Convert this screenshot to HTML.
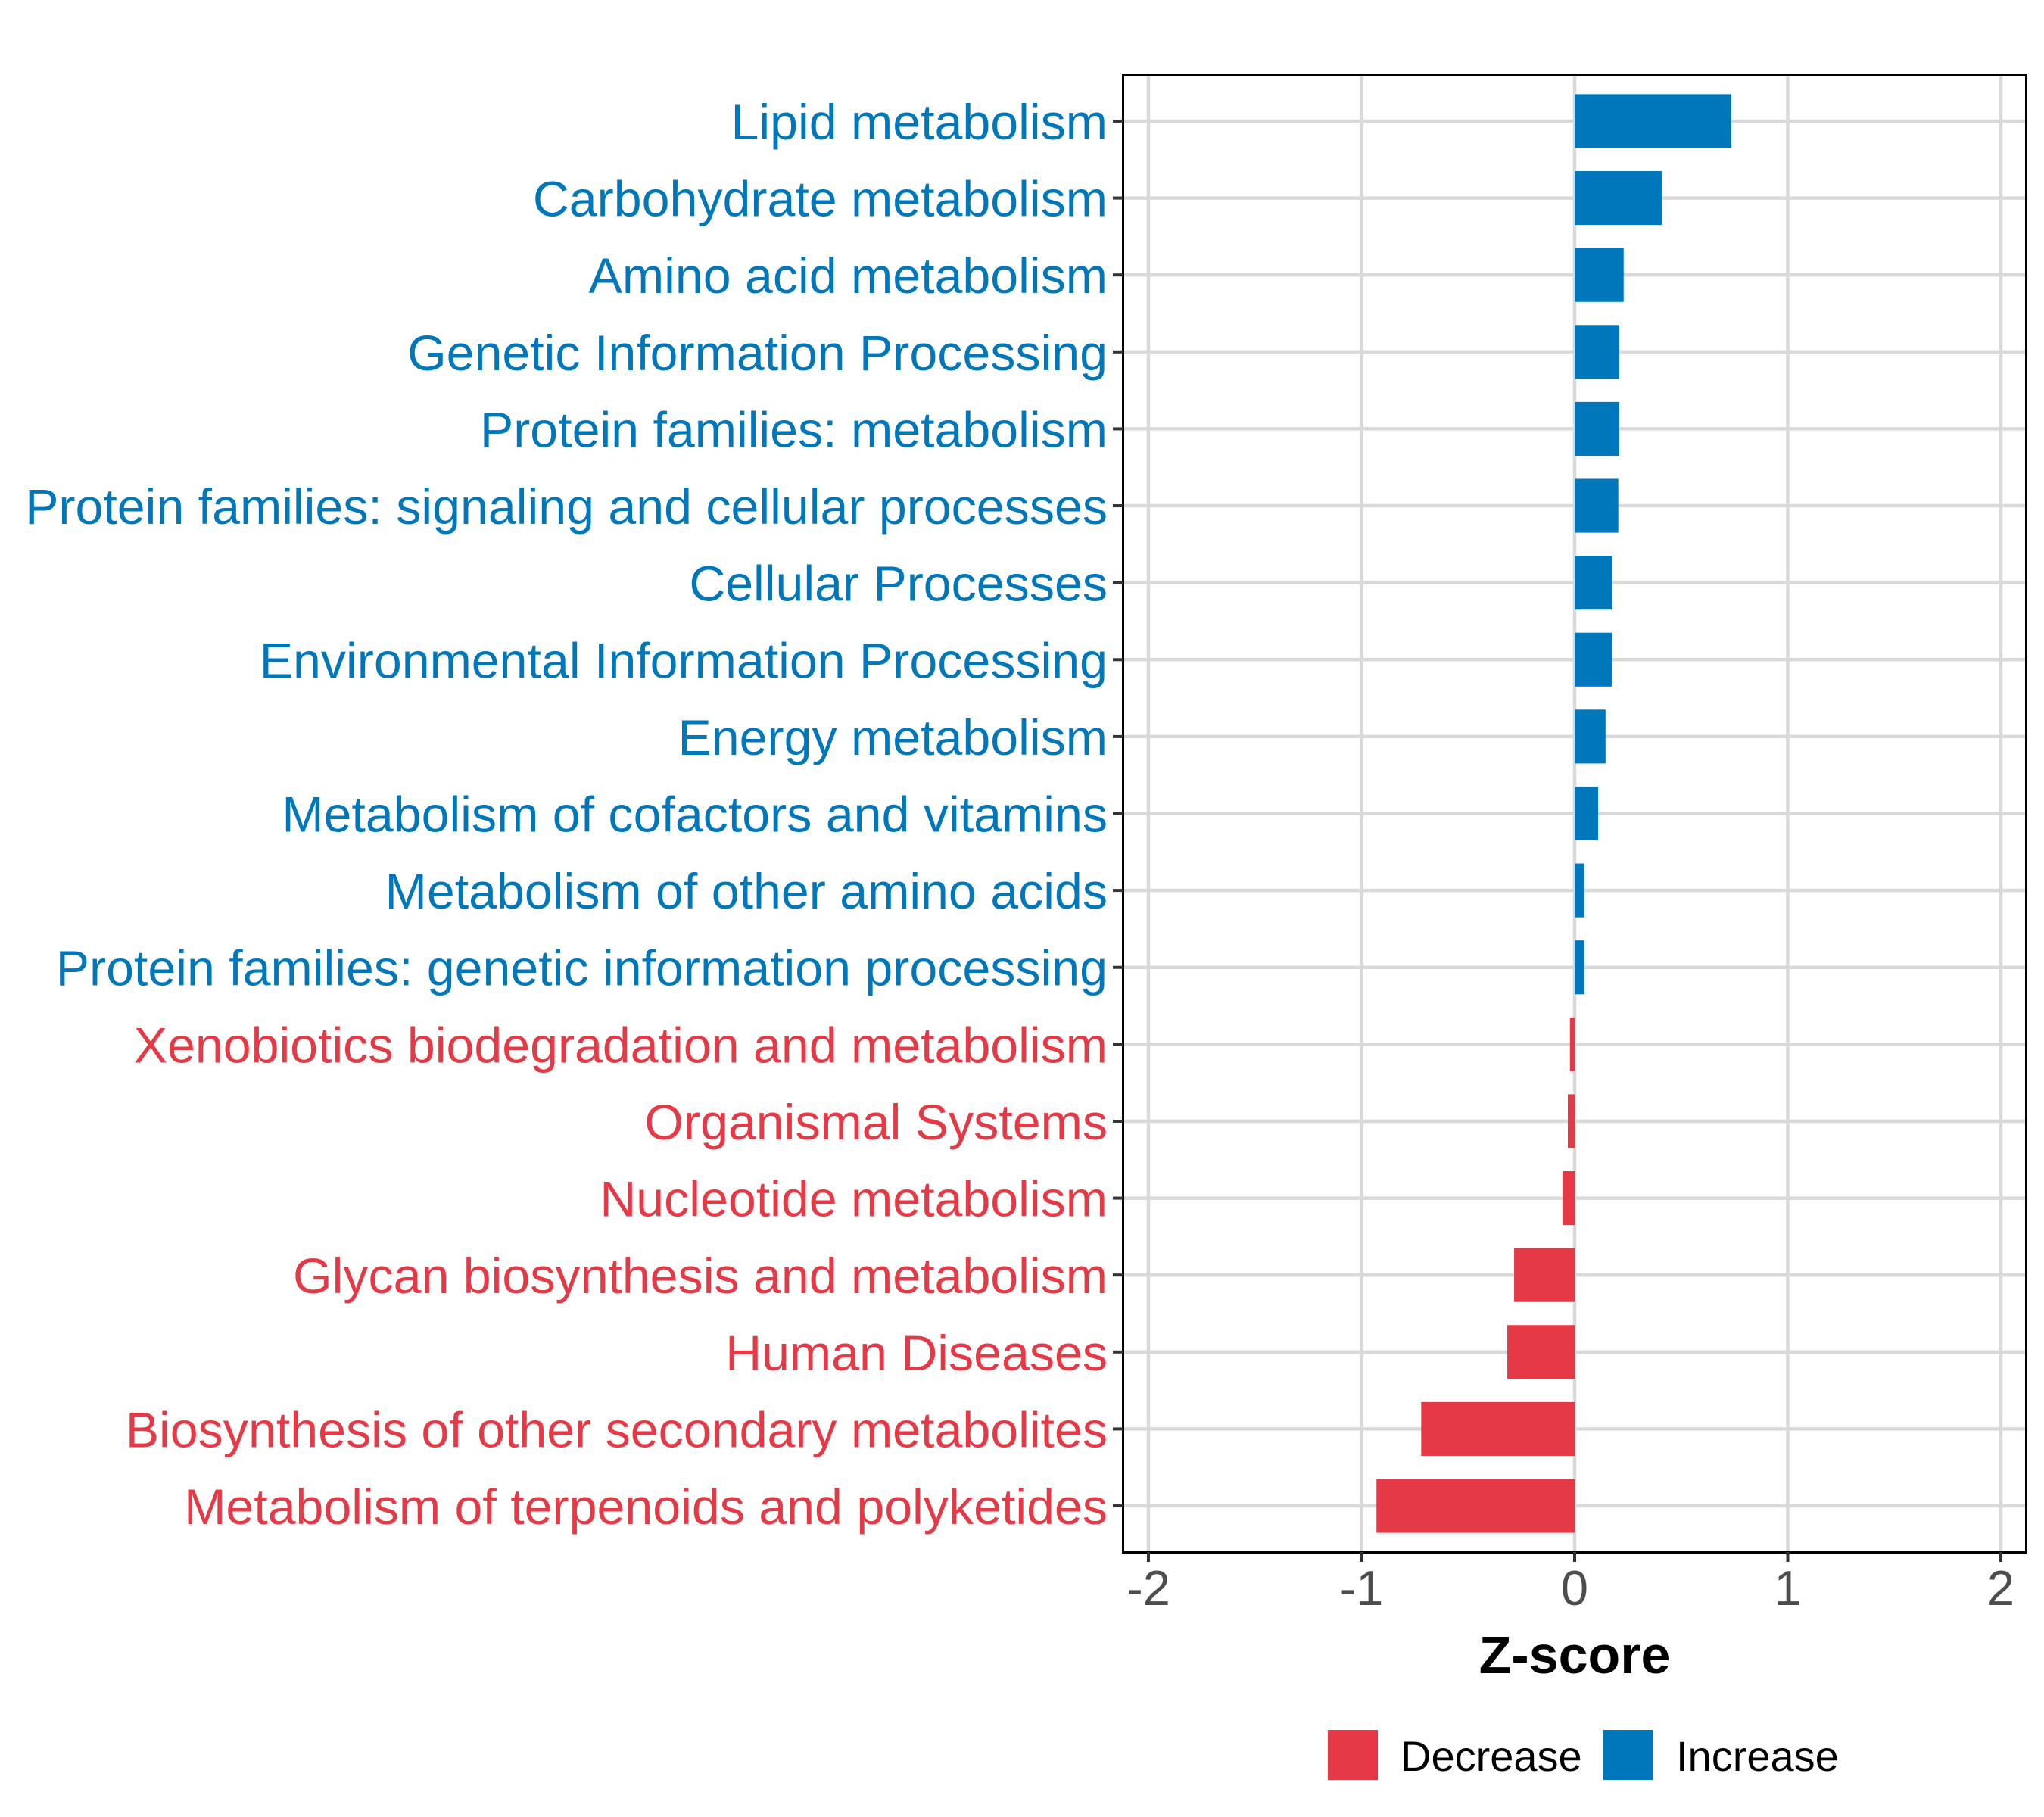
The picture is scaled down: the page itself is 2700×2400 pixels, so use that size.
<!DOCTYPE html>
<html><head><meta charset="utf-8"><style>
html,body{margin:0;padding:0;background:#fff;}
svg{display:block;font-family:"Liberation Sans",sans-serif;}
</style></head><body>
<svg id="chart" width="2700" height="2400" viewBox="0 0 2700 2400" xmlns="http://www.w3.org/2000/svg">
<rect x="0" y="0" width="2700" height="2400" fill="#fff"/>
<g id="grid"></g>
<g id="bars"></g>
<rect x="1483.5" y="99.5" width="1193" height="1951" fill="none" stroke="#000" stroke-width="3"/>
<g id="yaxis"></g>
<g id="xaxis"></g>
<text x="2080" y="2210" text-anchor="middle" font-size="70" font-weight="bold" fill="#000">Z-score</text>
<g>
<g>
<rect x="1754" y="2285" width="66" height="66" fill="#E63946"/>
<text x="1850" y="2339" font-size="56" fill="#000">Decrease</text>
</g>
<g>
<rect x="2118" y="2285" width="66" height="66" fill="#0077BB"/>
<text x="2214" y="2339" font-size="56" fill="#000">Increase</text>
</g>
</g>
</svg>
<script>
const categories = ["Lipid metabolism","Carbohydrate metabolism","Amino acid metabolism","Genetic Information Processing","Protein families: metabolism","Protein families: signaling and cellular processes","Cellular Processes","Environmental Information Processing","Energy metabolism","Metabolism of cofactors and vitamins","Metabolism of other amino acids","Protein families: genetic information processing","Xenobiotics biodegradation and metabolism","Organismal Systems","Nucleotide metabolism","Glycan biosynthesis and metabolism","Human Diseases","Biosynthesis of other secondary metabolites","Metabolism of terpenoids and polyketides"];
const zscores = [0.735,0.41,0.23,0.209,0.209,0.205,0.177,0.174,0.145,0.11,0.045,0.045,-0.022,-0.032,-0.057,-0.284,-0.316,-0.72,-0.93];
const xTicks = [-2,-1,0,1,2];
const xTickLabels = ["-2","-1","0","1","2"];

const NS="http://www.w3.org/2000/svg";
const px0=1483, px1=2676, py0=99, py1=2050;
function xs(v){return 2080 + v*281.5;}
const step=(py1-py0)/(categories.length+0.2);
function ys(i){return py0 + step*(0.6+i);}
function mk(tag,attrs,parent){const e=document.createElementNS(NS,tag);for(const k in attrs)e.setAttribute(k,attrs[k]);parent.appendChild(e);return e;}
const grid=document.getElementById('grid'),bars=document.getElementById('bars'),yaxis=document.getElementById('yaxis'),xaxis=document.getElementById('xaxis');
xTicks.forEach((t,i)=>{
  const l=mk('line',{x1:xs(t),x2:xs(t),y1:py0,y2:py1,stroke:'#d9d9d9','stroke-width':4.5},grid);
  
  
  const tk=mk('line',{x1:xs(t),x2:xs(t),y1:py1,y2:py1+13,stroke:'#333','stroke-width':4},xaxis);
  
  
  const tx=mk('text',{x:xs(t),y:2120,'text-anchor':'middle','font-size':65,fill:'#4d4d4d'},xaxis);
  tx.textContent=xTickLabels[i];
  
  
});
categories.forEach((c,i)=>{
  const y=ys(i);
  const col=zscores[i]>=0?'#0077BB':'#E63946';
  const g=mk('line',{x1:px0,x2:px1,y1:y,y2:y,stroke:'#d9d9d9','stroke-width':4.5},grid);
  
  
  const v=zscores[i];
  const bw=step*0.7;
  const b=mk('rect',{x:Math.min(xs(0),xs(v)),y:y-bw/2,width:Math.abs(xs(v)-xs(0)),height:bw,fill:col},bars);
  
  
  const tk=mk('line',{x1:px0-13,x2:px0,y1:y,y2:y,stroke:'#333','stroke-width':4},yaxis);
  
  
  const tx=mk('text',{x:1463,y:y+24,'text-anchor':'end','font-size':66.3,fill:col},yaxis);
  tx.textContent=c;
  
  
});
</script>
</body></html>
